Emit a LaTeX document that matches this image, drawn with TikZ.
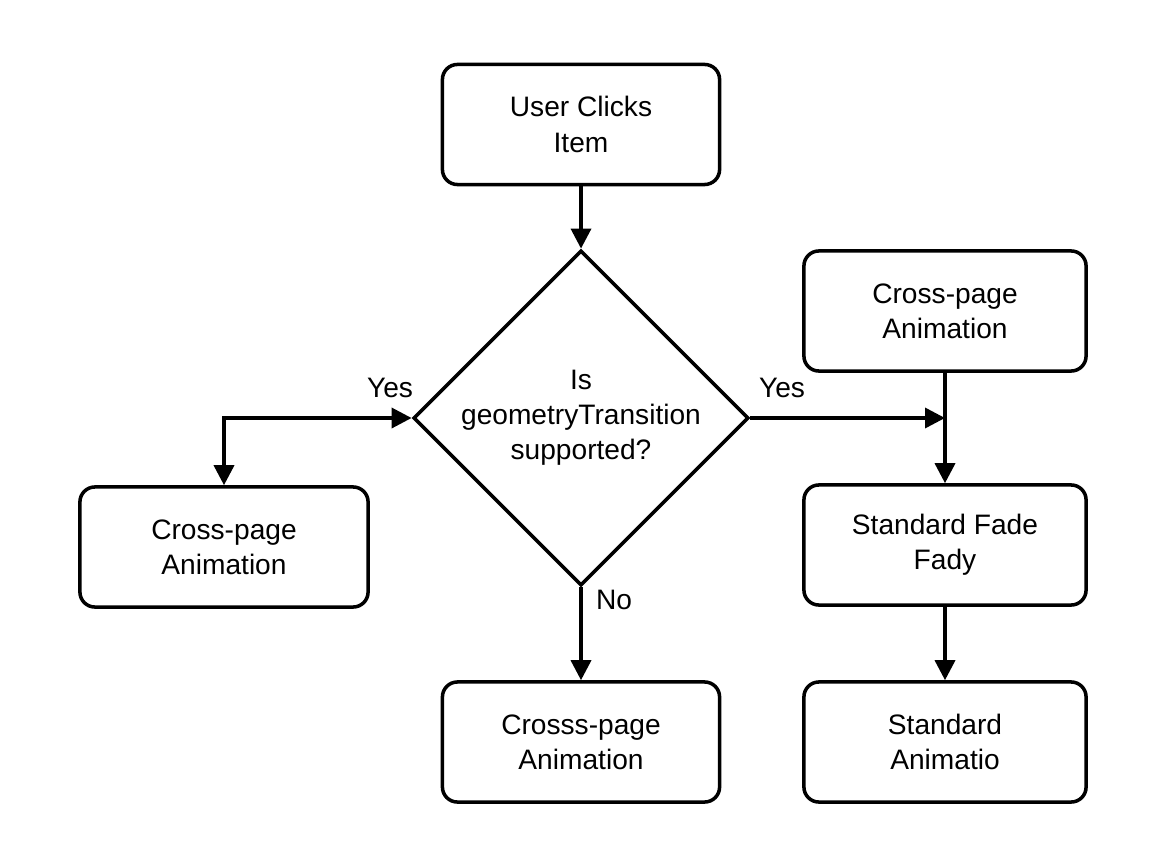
\documentclass[tikz,border=0pt]{standalone}
\usepackage{fontspec}
\setmainfont{Liberation Sans}
\usetikzlibrary{shapes.geometric,arrows.meta}
\begin{document}
\begin{tikzpicture}[x=0.01cm,y=-0.01cm,
  box/.style={draw,line width=1pt,rounded corners=0.15cm,minimum width=2.8cm,minimum height=1.2cm,align=center,font=\fontsize{8}{10}\selectfont},
  dia/.style={draw,line width=1pt,diamond,minimum width=3.23cm,minimum height=2.65cm,inner sep=0pt,align=center,font=\fontsize{8}{10}\selectfont},
  arr/.style={line width=1pt,-{Triangle[length=0.2cm,width=0.2cm]}},
  lab/.style={font=\fontsize{8}{10}\selectfont}]
\useasboundingbox (0,0) rectangle (1152,864);
\node[box,minimum width=2.77cm] (top) at (581,124.5) {User Clicks\\Item};
\node[dia] (d) at (581,418) {Is\\geometryTransition\\supported?};
\node[box,minimum width=2.88cm] (left) at (224,547) {Cross-page\\Animation};
\node[box,minimum width=2.77cm] (bot) at (581,742) {Crosss-page\\Animation};
\node[box,minimum width=2.82cm] (r1) at (945,311) {Cross-page\\Animation};
\node[box,minimum width=2.82cm] (r2) at (945,545) {Standard Fade\\Fady};
\node[box,minimum width=2.82cm] (r3) at (945,742) {Standard\\Animatio};
\coordinate (lc) at (224,418);
\coordinate (rc) at (945,418);
\draw[arr] (top) -- (d.north);
\draw[line width=1pt,{Triangle[length=0.2cm,width=0.2cm]}-{Triangle[length=0.2cm,width=0.2cm]}] (left.north) -- (lc) -- (d.west);
\draw[arr] (d.east) -- (rc);
\draw[arr] (r1) -- (r2);
\draw[arr] (d.south) -- (bot);
\draw[arr] (r2) -- (r3);
\node[lab] (y1) at (390,388) {Yes};
\node[lab] (y2) at (782,388) {Yes};
\node[lab] (no) at (614,600) {No};
\end{tikzpicture}
\end{document}
